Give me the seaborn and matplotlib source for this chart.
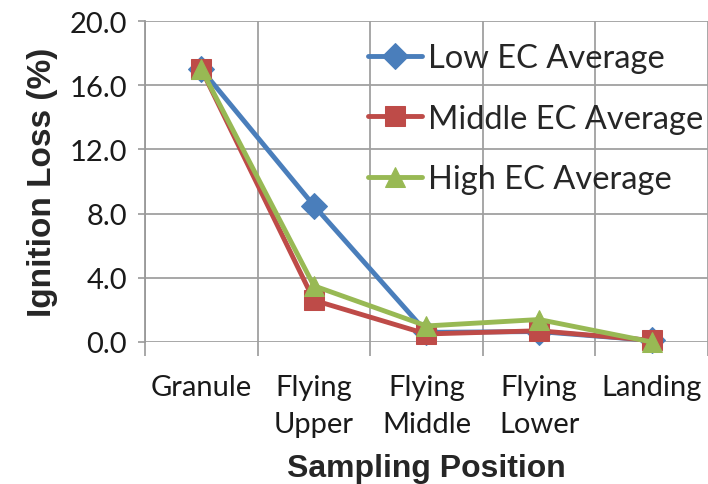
import pandas as pd
import matplotlib.pyplot as plt
import seaborn as sns

# Data
positions = ['Granule', 'Flying\nUpper', 'Flying\nMiddle', 'Flying\nLower', 'Landing']
low_ec = [17.0, 8.5, 0.6, 0.65, 0.1]
middle_ec = [17.0, 2.6, 0.5, 0.7, 0.1]
high_ec = [17.0, 3.5, 1.0, 1.4, 0.0]

series = {
    'Low EC Average': (low_ec, '#4A7EBB', 'D', 13),
    'Middle EC Average': (middle_ec, '#BE4B48', 's', 14),
    'High EC Average': (high_ec, '#98B954', '^', 15),
}

sns.set_style('white')
plt.rcParams['font.family'] = ['Lato', 'DejaVu Sans']

fig = plt.figure(figsize=(7.08, 4.85), dpi=100)
ax = fig.add_axes([0.2048, 0.2928, 0.7952, 0.6618])

for name, (vals, color, marker, ms) in series.items():
    df = pd.DataFrame({'x': range(len(positions)), 'y': vals})
    sns.lineplot(data=df, x='x', y='y', ax=ax, color=color, marker=marker,
                 markersize=ms, markeredgecolor=color, linewidth=3.5,
                 label=name, clip_on=False, zorder=3)

ax.set_xlim(-0.5, len(positions) - 0.5)
ax.set_ylim(0, 20)
ax.set_yticks([0, 4, 8, 12, 16, 20])
ax.set_yticklabels([f'{v:.1f}' for v in [0, 4, 8, 12, 16, 20]], fontsize=21, color='#1a1a1a')

# category labels between boundary ticks, Excel style
ax.set_xticks([i + 0.5 for i in range(-1, len(positions))])
ax.set_xticklabels([])
ax.set_xticks(range(len(positions)), minor=True)
ax.set_xticklabels(positions, minor=True, fontsize=21, color='#1a1a1a',
                   va='top', linespacing=1.55)
ax.tick_params(axis='x', which='minor', length=0, pad=23)
ax.tick_params(axis='x', which='major', length=10, width=1.2, color='#999999', direction='out')
ax.tick_params(axis='y', length=5, width=1.2, color='#999999', direction='out', pad=8)
ax.xaxis.set_tick_params(bottom=True)
ax.yaxis.set_tick_params(left=True)

ax.grid(True, which='major', color='#a0a0a0', linewidth=1.3)
ax.set_axisbelow(True)
for side in ['top', 'right', 'bottom']:
    ax.spines[side].set_visible(False)
ax.spines['left'].set_color('#999999')
ax.spines['left'].set_linewidth(1.3)

ax.set_xlabel('Sampling Position', fontsize=23, fontweight='bold',
              family='Liberation Sans', labelpad=11)
ax.set_ylabel('Ignition Loss (%)', fontsize=24, fontweight='bold',
              family='Liberation Sans', labelpad=8)

ax.legend(loc='upper left', bbox_to_anchor=(0.396, 0.93), frameon=False,
          fontsize=23.5, handlelength=1.65, handletextpad=0.18, labelspacing=0.93,
          borderaxespad=0, borderpad=0)

fig.savefig('out.png', dpi=100)
